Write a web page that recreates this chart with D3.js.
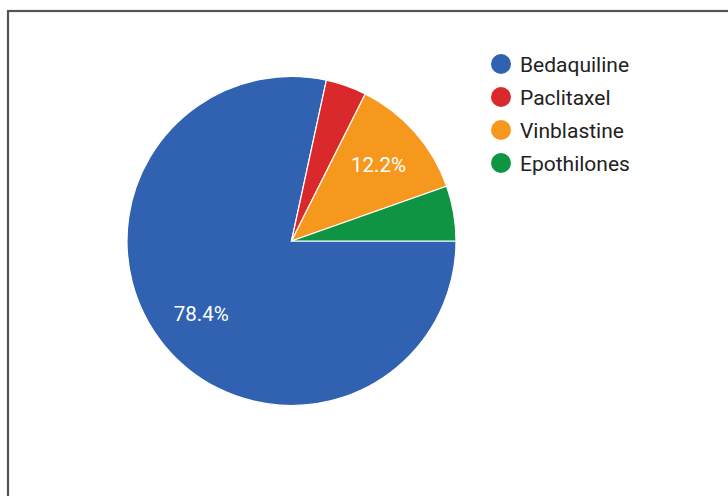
<!DOCTYPE html>
<html><head><meta charset="utf-8">
<script src="https://cdn.jsdelivr.net/npm/d3@7"></script>
<style>body{margin:0;background:#fff}svg{display:block}</style>
</head><body>
<svg id="c" width="728" height="496"></svg>
<script>
const categories = ["Bedaquiline","Paclitaxel","Vinblastine","Epothilones"];
const values = [78.4, 4.0, 12.2, 5.4];
const colors = ["#3162b1","#d9292a","#f7981e","#0e9443"];
const labelShown = [true, false, true, false];

const svg = d3.select("#c");
svg.append("rect").attr("x",8).attr("y",11).attr("width",760).attr("height",520)
  .attr("fill","none").attr("stroke","#555").attr("stroke-width",2.2);

const cx = 291.5, cy = 241, r = 164.5;
const data = categories.map((c,i)=>({c, v:values[i], i}));
const pie = d3.pie().value(d=>d.v).sort(null)
  .startAngle(Math.PI/2).endAngle(Math.PI/2 + 2*Math.PI);
const arc = d3.arc().innerRadius(0).outerRadius(r);
const g = svg.append("g").attr("transform",`translate(${cx},${cy})`);
const arcs = pie(data);
g.selectAll("path").data(arcs).join("path")
  .attr("d",arc).attr("fill",d=>colors[d.data.i])
  .attr("stroke","#fff").attr("stroke-width",1.2);

const lab = d3.arc().innerRadius(r*0.705).outerRadius(r*0.705);
g.selectAll("text").data(arcs.filter(d=>labelShown[d.data.i])).join("text")
  .attr("transform",d=>`translate(${lab.centroid(d)})`)
  .attr("text-anchor","middle").attr("dy","0.36em")
  .attr("font-family","Roboto, Arial, sans-serif").attr("font-size",20.5)
  .attr("fill","#fff")
  .text(d=>d.data.v.toFixed(1)+"%");

const lg = svg.append("g");
const y = d3.scalePoint().domain(categories).range([64,163]);
categories.forEach((c,i)=>{
  lg.append("circle").attr("cx",501).attr("cy",y(c)).attr("r",10).attr("fill",colors[i]);
  lg.append("text").attr("x",520).attr("y",y(c)).attr("dy","0.36em")
    .attr("font-family","Roboto, Arial, sans-serif").attr("font-size",21)
    .attr("fill","#222").text(c);
});
</script>
</body></html>
